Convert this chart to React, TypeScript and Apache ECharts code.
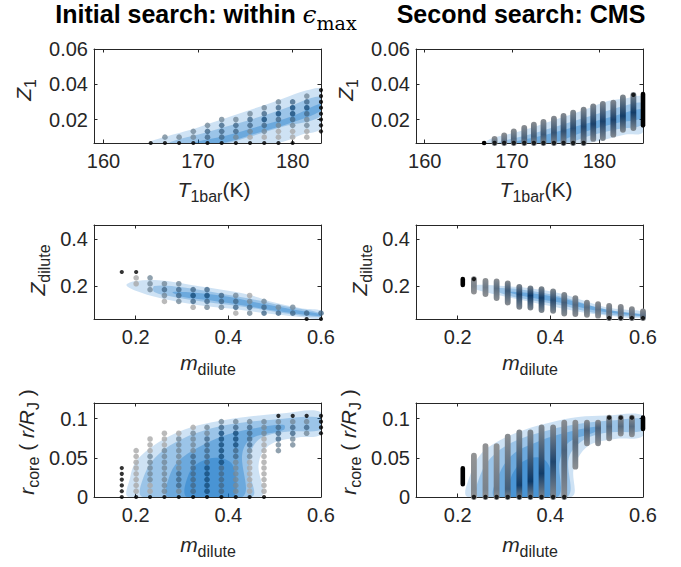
import React, { useEffect, useRef } from "react";
import * as echarts from "echarts";

// ---------------- data ----------------
// Panel 1: initial search, Z1 vs T1bar (grid of models)
const p1X = [165, 166.5, 168, 169.5, 171, 172.5, 174, 175.5, 177, 178.5, 180, 181.5, 183];
const p1Y = [0.0067, 0.01, 0.0133, 0.0167, 0.02, 0.0233, 0.0267, 0.03, 0.0333, 0.0367];
// one string per column, one char per row: K edge, L light, M mid, D dark, X darkest, . none
const p1Dots = ["K", "KM", "KM", "KMM", "KDDM", "KDDDM", "KMDDM", "KLMDDM", "KLMDXDM", "KLLMDXDM", "KLLMDXXD", ".LLMMDXDM", "..KKKKKKKK"];
const p1Cloud = [
  [[165, 0.0067], [170, 0.0155], [175, 0.0245], [179, 0.032], [181.5, 0.0366], [183, 0.037], [183, 0.0152], [181, 0.0115], [178.3, 0.0067]],
  [[167, 0.0067], [171, 0.013], [175, 0.019], [179, 0.026], [183, 0.033], [183, 0.022], [179, 0.016], [175, 0.0095], [173, 0.0067]],
  [[169.5, 0.0067], [173, 0.011], [177, 0.017], [180, 0.022], [183, 0.029], [183, 0.025], [180, 0.0185], [176, 0.012], [172.5, 0.0067]],
];

// Panel 2: CMS search, Z1 vs T1bar (dense columns)
const p2X = [166.8, 168.0, 169.1, 170.2, 171.4, 172.5, 173.6, 174.8, 175.9, 177.0, 178.2, 179.3, 180.4, 181.6, 182.7, 183.9, 185.0];
const p2Lo = [0.0067, 0.0067, 0.0067, 0.0067, 0.0067, 0.0067, 0.0067, 0.0067, 0.0067, 0.0067, 0.0067, 0.009, 0.0095, 0.0114, 0.0142, 0.0152, 0.0167];
const p2Hi = [0.0067, 0.009, 0.011, 0.0133, 0.0152, 0.0171, 0.0186, 0.0205, 0.022, 0.0239, 0.0256, 0.0275, 0.0288, 0.0296, 0.0325, 0.034, 0.0345];
const p2Ridge = [0.0067, 0.0075, 0.008, 0.009, 0.0095, 0.0105, 0.0115, 0.0125, 0.0135, 0.015, 0.016, 0.0175, 0.019, 0.02, 0.022, 0.024, 0.026];
const p2Dens = [-1, 0.35, 0.4, 0.5, 0.55, 0.6, 0.65, 0.7, 0.75, 0.8, 0.85, 0.9, 0.9, 0.9, 0.95, 0.95, -1];
const p2EdgeX = [168.0, 169.1, 170.2, 171.4, 172.5, 173.6, 174.8, 175.9, 177.0, 178.2, 183.9];
const p2EdgeY = [0.0067, 0.0067, 0.0067, 0.0067, 0.0067, 0.0067, 0.0067, 0.0067, 0.0067, 0.0067, 0.034];
const p2Cloud = [
  [[167, 0.0067], [167.5, 0.009], [171, 0.0135], [175, 0.02], [178, 0.025], [181, 0.0305], [183, 0.032], [185, 0.0325], [185, 0.013], [183, 0.0115], [180.5, 0.0085], [178.5, 0.0067]],
  [[168.5, 0.0067], [172, 0.0115], [176, 0.0175], [180, 0.0235], [183, 0.028], [185, 0.029], [185, 0.0175], [182, 0.0145], [179, 0.011], [176, 0.0067]],
  [[170, 0.0067], [174, 0.0115], [178, 0.017], [182, 0.0225], [185, 0.026], [185, 0.021], [182, 0.018], [178, 0.0125], [174.5, 0.0067]],
];

// Panel 3: initial search, Zdilute vs mdilute
const p3X = [0.17, 0.201, 0.231, 0.262, 0.293, 0.324, 0.354, 0.385, 0.416, 0.446, 0.477, 0.508, 0.539, 0.569, 0.6];
const p3Y = [0.06, 0.085, 0.11, 0.135, 0.16, 0.185, 0.21, 0.235, 0.26];
const p3Dots = ["........K", "......LLK", ".....MMM", "...LMDM", "...MDDM", "..LDXD", "..MDXD", "..MDD", ".LDDM", ".MDML", ".DDM", ".DM", ".DM", "KD", "KD"];
const p3Cloud = [
  [[0.18, 0.205], [0.2, 0.222], [0.25, 0.225], [0.32, 0.205], [0.4, 0.18], [0.45, 0.16], [0.5, 0.13], [0.56, 0.105], [0.6, 0.095], [0.6, 0.062], [0.55, 0.07], [0.48, 0.085], [0.42, 0.1], [0.35, 0.115], [0.3, 0.13], [0.25, 0.15], [0.2, 0.18]],
  [[0.24, 0.2], [0.3, 0.195], [0.38, 0.17], [0.45, 0.145], [0.52, 0.115], [0.6, 0.085], [0.6, 0.068], [0.52, 0.085], [0.44, 0.11], [0.36, 0.13], [0.28, 0.155], [0.24, 0.175]],
  [[0.28, 0.175], [0.34, 0.17], [0.4, 0.155], [0.46, 0.13], [0.54, 0.1], [0.6, 0.08], [0.6, 0.072], [0.52, 0.09], [0.44, 0.115], [0.36, 0.14], [0.3, 0.155]],
];

// Panel 4: CMS search, Zdilute vs mdilute
const p4X = [0.211, 0.235, 0.26, 0.284, 0.308, 0.333, 0.357, 0.381, 0.406, 0.43, 0.454, 0.479, 0.503, 0.527, 0.552, 0.576, 0.6];
const p4Lo = [0.205, 0.177, 0.166, 0.149, 0.13, 0.112, 0.109, 0.098, 0.095, 0.083, 0.081, 0.078, 0.074, 0.064, 0.064, 0.064, 0.064];
const p4Hi = [0.23, 0.23, 0.222, 0.22, 0.211, 0.197, 0.19, 0.187, 0.177, 0.163, 0.149, 0.13, 0.123, 0.116, 0.112, 0.102, 0.092];
const p4Ridge = [0.215, 0.2, 0.195, 0.19, 0.18, 0.165, 0.16, 0.15, 0.14, 0.13, 0.12, 0.11, 0.1, 0.09, 0.085, 0.08, 0.075];
const p4Dens = [-1, 0.2, 0.3, 0.45, 0.65, 0.85, 1, 0.95, 0.8, 0.6, 0.5, 0.45, 0.4, 0.4, 0.4, 0.4, 0.4];
const p4EdgeX = [0.235, 0.527, 0.552, 0.576, 0.6];
const p4EdgeY = [0.23, 0.064, 0.064, 0.064, 0.064];
const p4Cloud = [
  [[0.235, 0.19], [0.24, 0.205], [0.3, 0.2], [0.36, 0.19], [0.42, 0.17], [0.47, 0.14], [0.52, 0.11], [0.56, 0.1], [0.6, 0.09], [0.6, 0.065], [0.52, 0.075], [0.45, 0.095], [0.4, 0.115], [0.34, 0.14], [0.28, 0.165]],
  [[0.28, 0.19], [0.34, 0.185], [0.4, 0.165], [0.46, 0.135], [0.52, 0.1], [0.6, 0.08], [0.6, 0.07], [0.5, 0.085], [0.42, 0.12], [0.36, 0.14], [0.3, 0.165]],
  [[0.31, 0.175], [0.36, 0.17], [0.42, 0.15], [0.48, 0.12], [0.55, 0.09], [0.6, 0.078], [0.6, 0.072], [0.5, 0.095], [0.42, 0.13], [0.36, 0.15]],
];

// Panel 5: initial search, rcore vs mdilute
const p5X = [0.17, 0.201, 0.231, 0.262, 0.293, 0.324, 0.354, 0.385, 0.416, 0.446, 0.477, 0.508, 0.539, 0.569, 0.6];
const p5Y = [0, 0.0074, 0.0148, 0.0222, 0.0296, 0.037, 0.0444, 0.0518, 0.0592, 0.0666, 0.074, 0.0814, 0.0888, 0.0962, 0.1036];
const p5Dots = [
  "KKKKKK",
  "KLLLLLLLL",
  "KLLMMMMMLLL",
  "KMMMMMMMMLLL",
  "KMDDDMMMMMML",
  "KDDDDDDDMMMML",
  "KXXXXXDDDDDMM",
  "KDDDDDXXXXXXDM",
  "KMMMMMMDDXXXDM",
  "KLLLLLLMMDDDDM",
  "KLLLLLLLLLLMMM",
  "........MMDDDMK",
  ".........MMDDMK",
  "...........MDMK",
  "...........KKKK",
];
const p5Cloud = [
  [[0.185, 0], [0.188, 0.025], [0.2, 0.045], [0.23, 0.062], [0.27, 0.077], [0.32, 0.089], [0.38, 0.097], [0.45, 0.103], [0.52, 0.107], [0.6, 0.108], [0.6, 0.08], [0.55, 0.076], [0.5, 0.07], [0.475, 0.058], [0.465, 0.04], [0.468, 0]],
  [[0.215, 0], [0.22, 0.03], [0.25, 0.055], [0.3, 0.074], [0.36, 0.087], [0.42, 0.094], [0.5, 0.099], [0.6, 0.101], [0.6, 0.086], [0.52, 0.083], [0.47, 0.075], [0.45, 0.06], [0.445, 0.035], [0.45, 0]],
  [[0.27, 0], [0.275, 0.03], [0.3, 0.05], [0.35, 0.068], [0.4, 0.08], [0.46, 0.088], [0.52, 0.092], [0.52, 0.086], [0.45, 0.075], [0.43, 0.055], [0.43, 0]],
  [[0.31, 0], [0.315, 0.03], [0.34, 0.045], [0.38, 0.05], [0.41, 0.04], [0.41, 0]],
];

// Panel 6: CMS search, rcore vs mdilute
const p6X = [0.211, 0.235, 0.26, 0.284, 0.308, 0.333, 0.357, 0.381, 0.406, 0.43, 0.454, 0.479, 0.503, 0.527, 0.552, 0.576, 0.6];
const p6Lo = [0.0162, 0, 0, 0, 0, 0, 0, 0, 0, 0, 0.0387, 0.0685, 0.0685, 0.075, 0.081, 0.08, 0.0868];
const p6Hi = [0.0366, 0.0528, 0.065, 0.065, 0.077, 0.0825, 0.0825, 0.089, 0.089, 0.095, 0.095, 0.095, 0.095, 0.1013, 0.1013, 0.1013, 0.1013];
const p6Ridge = [0.026, 0.01, 0.01, 0.01, 0.01, 0.015, 0.02, 0.03, 0.045, 0.06, 0.07, 0.085, 0.088, 0.09, 0.09, 0.09, 0.09];
const p6Dens = [-1, 0.15, 0.2, 0.3, 0.6, 0.95, 1, 0.95, 0.85, 0.55, 0.45, 0.55, 0.55, 0.5, 0.45, 0.45, -1];
const p6EdgeX = [0.235, 0.26, 0.284, 0.308, 0.333, 0.357, 0.381, 0.406, 0.43, 0.527, 0.552, 0.576];
const p6EdgeY = [0, 0, 0, 0, 0, 0, 0, 0, 0, 0.1013, 0.1013, 0.1013];
const p6Cloud = [
  [[0.222, 0], [0.228, 0.03], [0.25, 0.055], [0.29, 0.072], [0.34, 0.085], [0.4, 0.095], [0.46, 0.102], [0.52, 0.104], [0.6, 0.104], [0.6, 0.078], [0.54, 0.074], [0.49, 0.068], [0.465, 0.055], [0.45, 0.035], [0.445, 0]],
  [[0.245, 0], [0.25, 0.03], [0.28, 0.055], [0.33, 0.073], [0.4, 0.086], [0.47, 0.094], [0.54, 0.098], [0.6, 0.099], [0.6, 0.085], [0.52, 0.082], [0.47, 0.072], [0.44, 0.05], [0.435, 0]],
  [[0.28, 0], [0.29, 0.03], [0.32, 0.055], [0.37, 0.07], [0.42, 0.08], [0.5, 0.09], [0.5, 0.084], [0.44, 0.07], [0.42, 0.045], [0.415, 0]],
  [[0.31, 0], [0.315, 0.025], [0.34, 0.045], [0.38, 0.05], [0.4, 0.035], [0.395, 0]],
];

// axes
const xTicksT = [160, 170, 180];
const xTicksM = [0.2, 0.4, 0.6];
const yTicksZ1 = [0.02, 0.04, 0.06];
const yTicksZd = [0.2, 0.4];
const yTicksR = [0, 0.05, 0.1];

// ---------------- styling ----------------
const SANS = '"Liberation Sans", Arial, Helvetica, sans-serif';
const SERIF = '"DejaVu Serif", "Liberation Serif", serif';
const AX = "#262626";
const GX = [94, 416];
const GW = 227;
const GY = [49, 225, 403];
const GH = 94;
const TICK_FONT = 20;
const LABEL_FONT = 21;
const TITLE_FONT = 25;
const SHADE: Record<string, string> = { K: "#000000", L: "#a9a9a9", M: "#74899a", D: "#44698a", X: "#164c7b" };
const CLOUD = ["rgba(10,112,198,0.2)", "rgba(10,112,198,0.26)", "rgba(10,112,198,0.32)", "rgba(10,112,198,0.36)"];

function mix(t: number) {
  const a = [150, 150, 150];
  const b = [12, 56, 102];
  const c = a.map((v, i) => Math.round(v + (b[i] - v) * t));
  return `rgb(${c[0]},${c[1]},${c[2]})`;
}

function gridDots(xs: number[], ys: number[], rows: string[]) {
  const out: any[] = [];
  rows.forEach((s, c) => {
    for (let r = 0; r < s.length; r++) {
      const ch = s[r];
      if (ch === ".") continue;
      out.push({ value: [xs[c], ys[r]], symbolSize: ch === "K" ? 4.2 : 5.6, itemStyle: { color: SHADE[ch] } });
    }
  });
  return out;
}

let ctx: CanvasRenderingContext2D | null = null;
function measure(font: string, text: string) {
  if (!ctx) ctx = document.createElement("canvas").getContext("2d");
  ctx!.font = font;
  return ctx!.measureText(text).width;
}

type Part = { t: string; it?: boolean; sub?: boolean; serif?: boolean; bold?: boolean };
function mlabel(parts: Part[], cx: number, cy: number, size: number, rot: boolean, color: string) {
  const subSize = Math.round(size * 0.74);
  let x = 0;
  const kids: any[] = [];
  for (const p of parts) {
    const fs = p.sub ? subSize : size;
    const fam = p.serif ? SERIF : SANS;
    const st = p.it ? "italic" : "normal";
    const wt = p.bold ? "bold" : "normal";
    const w = measure(`${st} ${wt} ${fs}px ${fam}`, p.t);
    kids.push({
      type: "text",
      x,
      y: p.sub ? size * 0.36 : 0,
      silent: true,
      style: {
        text: p.t, fontSize: fs, fontFamily: fam, fontStyle: st, fontWeight: wt, fill: color,
        align: "left", verticalAlign: "middle", textAlign: "left", textVerticalAlign: "middle",
      },
    });
    x += w;
  }
  for (const k of kids) k.x -= x / 2;
  return { type: "group", x: cx, y: cy, rotation: rot ? Math.PI / 2 : 0, children: kids, silent: true };
}

type PanelDef = {
  xMin: number; xMax: number; xTicks: number[];
  yMin: number; yMax: number; yTicks: number[];
  cloud: number[][][];
  dots?: any[];
  dense?: { x: number[]; lo: number[]; hi: number[]; ridge: number[]; dens: number[]; ex: number[]; ey: number[] };
};

const panels: PanelDef[] = [
  { xMin: 159, xMax: 183, xTicks: xTicksT, yMin: 0.0067, yMax: 0.06, yTicks: yTicksZ1, cloud: p1Cloud, dots: gridDots(p1X, p1Y, p1Dots) },
  { xMin: 159, xMax: 185, xTicks: xTicksT, yMin: 0.0067, yMax: 0.06, yTicks: yTicksZ1, cloud: p2Cloud,
    dense: { x: p2X, lo: p2Lo, hi: p2Hi, ridge: p2Ridge, dens: p2Dens, ex: p2EdgeX, ey: p2EdgeY } },
  { xMin: 0.11, xMax: 0.6, xTicks: xTicksM, yMin: 0.06, yMax: 0.46, yTicks: yTicksZd, cloud: p3Cloud, dots: gridDots(p3X, p3Y, p3Dots) },
  { xMin: 0.11, xMax: 0.6, xTicks: xTicksM, yMin: 0.06, yMax: 0.46, yTicks: yTicksZd, cloud: p4Cloud,
    dense: { x: p4X, lo: p4Lo, hi: p4Hi, ridge: p4Ridge, dens: p4Dens, ex: p4EdgeX, ey: p4EdgeY } },
  { xMin: 0.11, xMax: 0.6, xTicks: xTicksM, yMin: 0, yMax: 0.12, yTicks: yTicksR, cloud: p5Cloud, dots: gridDots(p5X, p5Y, p5Dots) },
  { xMin: 0.11, xMax: 0.6, xTicks: xTicksM, yMin: 0, yMax: 0.12, yTicks: yTicksR, cloud: p6Cloud,
    dense: { x: p6X, lo: p6Lo, hi: p6Hi, ridge: p6Ridge, dens: p6Dens, ex: p6EdgeX, ey: p6EdgeY } },
];

function buildOption() {
  const grid: any[] = [];
  const xAxis: any[] = [];
  const yAxis: any[] = [];
  const series: any[] = [];
  const fmt = (v: number) => String(v);

  panels.forEach((p, i) => {
    grid.push({ left: GX[i % 2], top: GY[Math.floor(i / 2)], width: GW, height: GH, show: false });
    const line = { show: true, onZero: false, lineStyle: { color: AX, width: 1 } };
    const tick = { show: true, inside: true, length: 3.5, lineStyle: { color: AX, width: 1 } };
    xAxis.push({
      type: "value", gridIndex: i, position: "bottom", min: p.xMin, max: p.xMax,
      axisLine: line, axisTick: { ...tick, customValues: p.xTicks },
      axisLabel: { show: true, customValues: p.xTicks, formatter: fmt, margin: 8, color: AX, fontSize: TICK_FONT, fontFamily: SANS, showMinLabel: true, showMaxLabel: true },
      splitLine: { show: false },
    });
    xAxis.push({
      type: "value", gridIndex: i, position: "top", min: p.xMin, max: p.xMax,
      axisLine: line, axisTick: { ...tick, customValues: p.xTicks },
      axisLabel: { show: false }, splitLine: { show: false },
    });
    yAxis.push({
      type: "value", gridIndex: i, position: "left", min: p.yMin, max: p.yMax,
      axisLine: line, axisTick: { ...tick, customValues: p.yTicks },
      axisLabel: { show: true, customValues: p.yTicks, formatter: fmt, margin: 6, color: AX, fontSize: TICK_FONT, fontFamily: SANS, showMinLabel: true, showMaxLabel: true },
      splitLine: { show: false },
    });
    yAxis.push({
      type: "value", gridIndex: i, position: "right", min: p.yMin, max: p.yMax,
      axisLine: line, axisTick: { ...tick, customValues: p.yTicks },
      axisLabel: { show: false }, splitLine: { show: false },
    });
    const xi = 2 * i;
    const yi = 2 * i;
    const layers = p.cloud;
    series.push({
      type: "custom", xAxisIndex: xi, yAxisIndex: yi, clip: true, silent: true, z: 1,
      data: layers.map((l, k) => [l[0][0], l[0][1], k]),
      renderItem: (_params: any, api: any) => {
        const k = api.value(2);
        const pts = layers[k].map((q) => api.coord(q));
        return { type: "polygon", shape: { points: pts, smooth: 0.35 }, style: { fill: CLOUD[k] } };
      },
    });
    if (p.dots) {
      series.push({
        type: "scatter", xAxisIndex: xi, yAxisIndex: yi, silent: true, z: 3, clip: false,
        symbol: "circle", data: p.dots,
      });
    }
    if (p.dense) {
      const d = p.dense;
      series.push({
        type: "custom", xAxisIndex: xi, yAxisIndex: yi, clip: false, silent: true, z: 3,
        data: d.x.map((x, c) => [x, d.lo[c], d.hi[c], d.ridge[c], d.dens[c]]),
        renderItem: (_params: any, api: any) => {
          const x = api.value(0), lo = api.value(1), hi = api.value(2), ridge = api.value(3), dens = api.value(4);
          const pt = api.coord([x, hi]);
          const pb = api.coord([x, lo]);
          const pr = api.coord([x, ridge]);
          const w = dens < 0 ? 4.6 : 5.8;
          const top = pt[1] - w / 2;
          const h = pb[1] - pt[1] + w;
          let fill: any = "#000";
          if (dens >= 0) {
            const f = Math.min(0.98, Math.max(0.02, (pr[1] - top) / h));
            fill = new echarts.graphic.LinearGradient(0, 0, 0, 1, [
              { offset: 0, color: mix(dens * 0.15) },
              { offset: f, color: mix(dens) },
              { offset: 1, color: mix(dens * 0.15) },
            ]);
          }
          return { type: "rect", shape: { x: pt[0] - w / 2, y: top, width: w, height: h, r: w / 2 }, style: { fill } };
        },
      });
      series.push({
        type: "scatter", xAxisIndex: xi, yAxisIndex: yi, silent: true, z: 4, clip: false,
        symbol: "circle", symbolSize: 4.4, itemStyle: { color: "#000" },
        data: d.ex.map((x, c) => [x, d.ey[c]]),
      });
    }
  });

  const lab = AX;
  const elements: any[] = [
    mlabel([{ t: "Initial search: within ", bold: true }, { t: "ϵ", serif: true, it: true }, { t: "max", serif: true, sub: true }], 206, 14, TITLE_FONT, false, "#000"),
    mlabel([{ t: "Second search: CMS", bold: true }], 521, 14, TITLE_FONT, false, "#000"),
    mlabel([{ t: "T", it: true }, { t: "1bar", sub: true }, { t: "(K)" }], 214, 189, LABEL_FONT, false, lab),
    mlabel([{ t: "T", it: true }, { t: "1bar", sub: true }, { t: "(K)" }], 536, 189, LABEL_FONT, false, lab),
    mlabel([{ t: "m", it: true }, { t: "dilute", sub: true }], 208, 362, LABEL_FONT, false, lab),
    mlabel([{ t: "m", it: true }, { t: "dilute", sub: true }], 530, 362, LABEL_FONT, false, lab),
    mlabel([{ t: "m", it: true }, { t: "dilute", sub: true }], 208, 544, LABEL_FONT, false, lab),
    mlabel([{ t: "m", it: true }, { t: "dilute", sub: true }], 530, 544, LABEL_FONT, false, lab),
    mlabel([{ t: "Z", it: true }, { t: "1", sub: true }], 23, 90, LABEL_FONT, true, lab),
    mlabel([{ t: "Z", it: true }, { t: "1", sub: true }], 345, 90, LABEL_FONT, true, lab),
    mlabel([{ t: "Z", it: true }, { t: "dilute", sub: true }], 37, 270, LABEL_FONT, true, lab),
    mlabel([{ t: "Z", it: true }, { t: "dilute", sub: true }], 359, 270, LABEL_FONT, true, lab),
    mlabel([{ t: "r", it: true }, { t: "core", sub: true }, { t: " ( " }, { t: "r/R", it: true }, { t: "J", sub: true }, { t: " )" }], 26, 442, LABEL_FONT, true, lab),
    mlabel([{ t: "r", it: true }, { t: "core", sub: true }, { t: " ( " }, { t: "r/R", it: true }, { t: "J", sub: true }, { t: " )" }], 348, 442, LABEL_FONT, true, lab),
  ];

  return { animation: false, backgroundColor: "#ffffff", grid, xAxis, yAxis, series, graphic: { elements } };
}

export default function App() {
  const ref = useRef<HTMLDivElement>(null);
  useEffect(() => {
    if (!ref.current) return;
    const chart = echarts.init(ref.current, null, { renderer: "svg" });
    chart.setOption(buildOption() as any);
    return () => chart.dispose();
  }, []);
  return <div ref={ref} style={{ position: "absolute", left: 0, top: 0, width: 681, height: 567, background: "#fff" }} />;
}
